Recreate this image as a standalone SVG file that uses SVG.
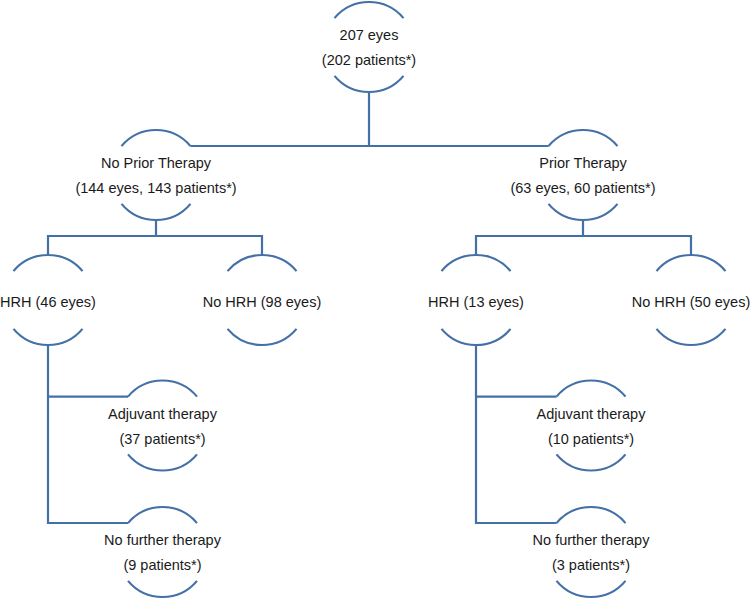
<svg xmlns="http://www.w3.org/2000/svg" width="750" height="599" viewBox="0 0 750 599">
<defs>
<style>
.arc{fill:none;stroke:#4470A8;stroke-width:2.2}
.conn{fill:none;stroke:#4470A8;stroke-width:2.2}
text{font-family:"Liberation Sans",Arial,sans-serif;font-size:14.5px;fill:#1a1a1a;text-anchor:middle}
</style>
<path id="arcs" class="arc" d="M-34.5,-28.9 A45,45 0 0,1 34.5,-28.9 M-34.5,28.9 A45,45 0 0,0 34.5,28.9"/>
</defs>
<rect width="750" height="599" fill="#ffffff"/>
<g id="connectors">
<path class="conn" d="M369,92 V146 M190.5,146 H548.5"/>
<path class="conn" d="M156,220 V236 M48,255 V236 H262 V255"/>
<path class="conn" d="M583,220 V236 M476,255 V236 H691 V255"/>
<path class="conn" d="M48,345 V523 H128 M48,396.6 H128"/>
<path class="conn" d="M476,345 V523 H556.5 M476,396.6 H556.5"/>
</g>
<g id="n-root" transform="translate(369,47)"><use href="#arcs"/><text y="-7">207 eyes</text><text y="18">(202 patients*)</text></g>
<g id="n-noprior" transform="translate(156,175)"><use href="#arcs"/><text y="-7">No Prior Therapy</text><text y="18">(144 eyes, 143 patients*)</text></g>
<g id="n-prior" transform="translate(583,175)"><use href="#arcs"/><text y="-7">Prior Therapy</text><text y="18">(63 eyes, 60 patients*)</text></g>
<g id="n-hrh46" transform="translate(48,300)"><use href="#arcs"/><text y="6.5">HRH (46 eyes)</text></g>
<g id="n-nohrh98" transform="translate(262,300)"><use href="#arcs"/><text y="6.5">No HRH (98 eyes)</text></g>
<g id="n-hrh13" transform="translate(476,300)"><use href="#arcs"/><text y="6.5">HRH (13 eyes)</text></g>
<g id="n-nohrh50" transform="translate(691,300)"><use href="#arcs"/><text y="6.5">No HRH (50 eyes)</text></g>
<g id="n-adj37" transform="translate(162.5,425.5)"><use href="#arcs"/><text y="-7">Adjuvant therapy</text><text y="18">(37 patients*)</text></g>
<g id="n-nft9" transform="translate(162.5,552)"><use href="#arcs"/><text y="-7">No further therapy</text><text y="18">(9 patients*)</text></g>
<g id="n-adj10" transform="translate(591,425.5)"><use href="#arcs"/><text y="-7">Adjuvant therapy</text><text y="18">(10 patients*)</text></g>
<g id="n-nft3" transform="translate(591,552)"><use href="#arcs"/><text y="-7">No further therapy</text><text y="18">(3 patients*)</text></g>
</svg>
